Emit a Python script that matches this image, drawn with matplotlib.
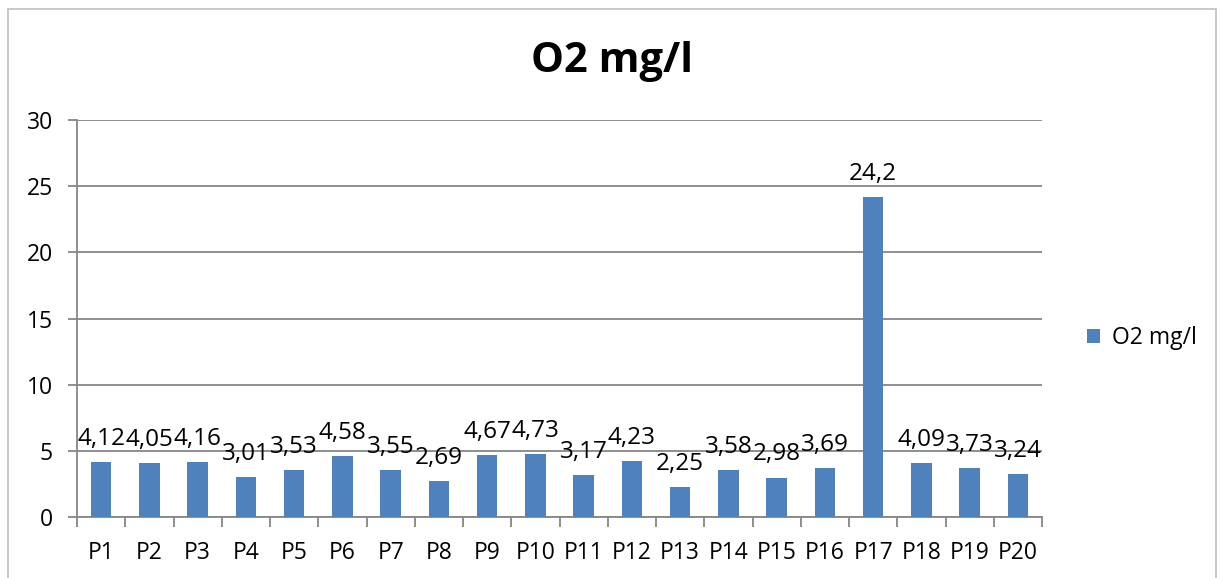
import matplotlib
matplotlib.use("Agg")
import matplotlib.pyplot as plt
import matplotlib.patches as mpatches
import numpy as np

# Dissolved oxygen per sampling point
points = [f"P{i}" for i in range(1, 21)]
o2_values = [4.12, 4.05, 4.16, 3.01, 3.53, 4.58, 3.55, 2.69, 4.67, 4.73,
             3.17, 4.23, 2.25, 3.58, 2.98, 3.69, 24.2, 4.09, 3.73, 3.24]
y_ticks = [0, 5, 10, 15, 20, 25, 30]
series_name = "O2 mg/l"

BAR = "#4F81BD"
GRID = "#868686"
TEXT = "#000000"
FS = 16.5

plt.rcParams["font.family"] = ["Open Sans", "DejaVu Sans"]

W, H = 1220, 578
fig = plt.figure(figsize=(W / 100, H / 100), dpi=100)
fig.patch.set_facecolor("white")

# chart frame
fig.add_artist(mpatches.Rectangle((8 / W, -0.05), (1216 - 8) / W, 1.05 - 9 / H,
                                  transform=fig.transFigure, fill=False,
                                  edgecolor="#BFBFBF", linewidth=1.2))

ax = fig.add_axes([77 / W, 1 - 517 / H, (1042 - 77) / W, (517 - 120) / H])
x = np.arange(len(points))
bars = ax.bar(x, o2_values, width=0.42, color=BAR, zorder=3, label=series_name)

ax.set_xlim(-0.5, len(points) - 0.5)
ax.set_ylim(0, 30)
ax.set_yticks(y_ticks)
ax.set_yticklabels([str(t) for t in y_ticks], fontsize=FS, color=TEXT)
ax.set_xticks(x)
ax.set_xticklabels(points, fontsize=FS, color=TEXT)
ax.set_xticks(np.arange(-0.5, len(points)), minor=True)
ax.tick_params(axis="x", which="major", length=0, pad=17)
ax.tick_params(axis="x", which="minor", length=7, width=1.3, color=GRID)
ax.tick_params(axis="y", length=6.5, width=1.3, color=GRID, pad=11)

for s in ["top", "right"]:
    ax.spines[s].set_visible(False)
for s in ["left", "bottom"]:
    ax.spines[s].set_color(GRID)
    ax.spines[s].set_linewidth(1.3)
ax.grid(axis="y", color=GRID, linewidth=1.3, zorder=0)
ax.set_axisbelow(True)

for bar, v in zip(bars, o2_values):
    label = f"{v:g}".replace(".", ",")
    ax.annotate(label, (bar.get_x() + bar.get_width() / 2, bar.get_height()),
                xytext=(0, 8), textcoords="offset points",
                ha="center", va="bottom", fontsize=17.5, color=TEXT, zorder=4)

fig.text(612 / W, 1 - 62 / H, series_name, ha="center", va="center",
         fontsize=30, fontweight="bold", color=TEXT)

ax.legend(loc="center left", bbox_to_anchor=(1066 / W, 1 - 338 / H),
          bbox_transform=fig.transFigure, frameon=False, fontsize=FS,
          handlelength=0.6, handleheight=0.6, handletextpad=0.5)

fig.savefig("out.png", dpi=100, facecolor="white")
